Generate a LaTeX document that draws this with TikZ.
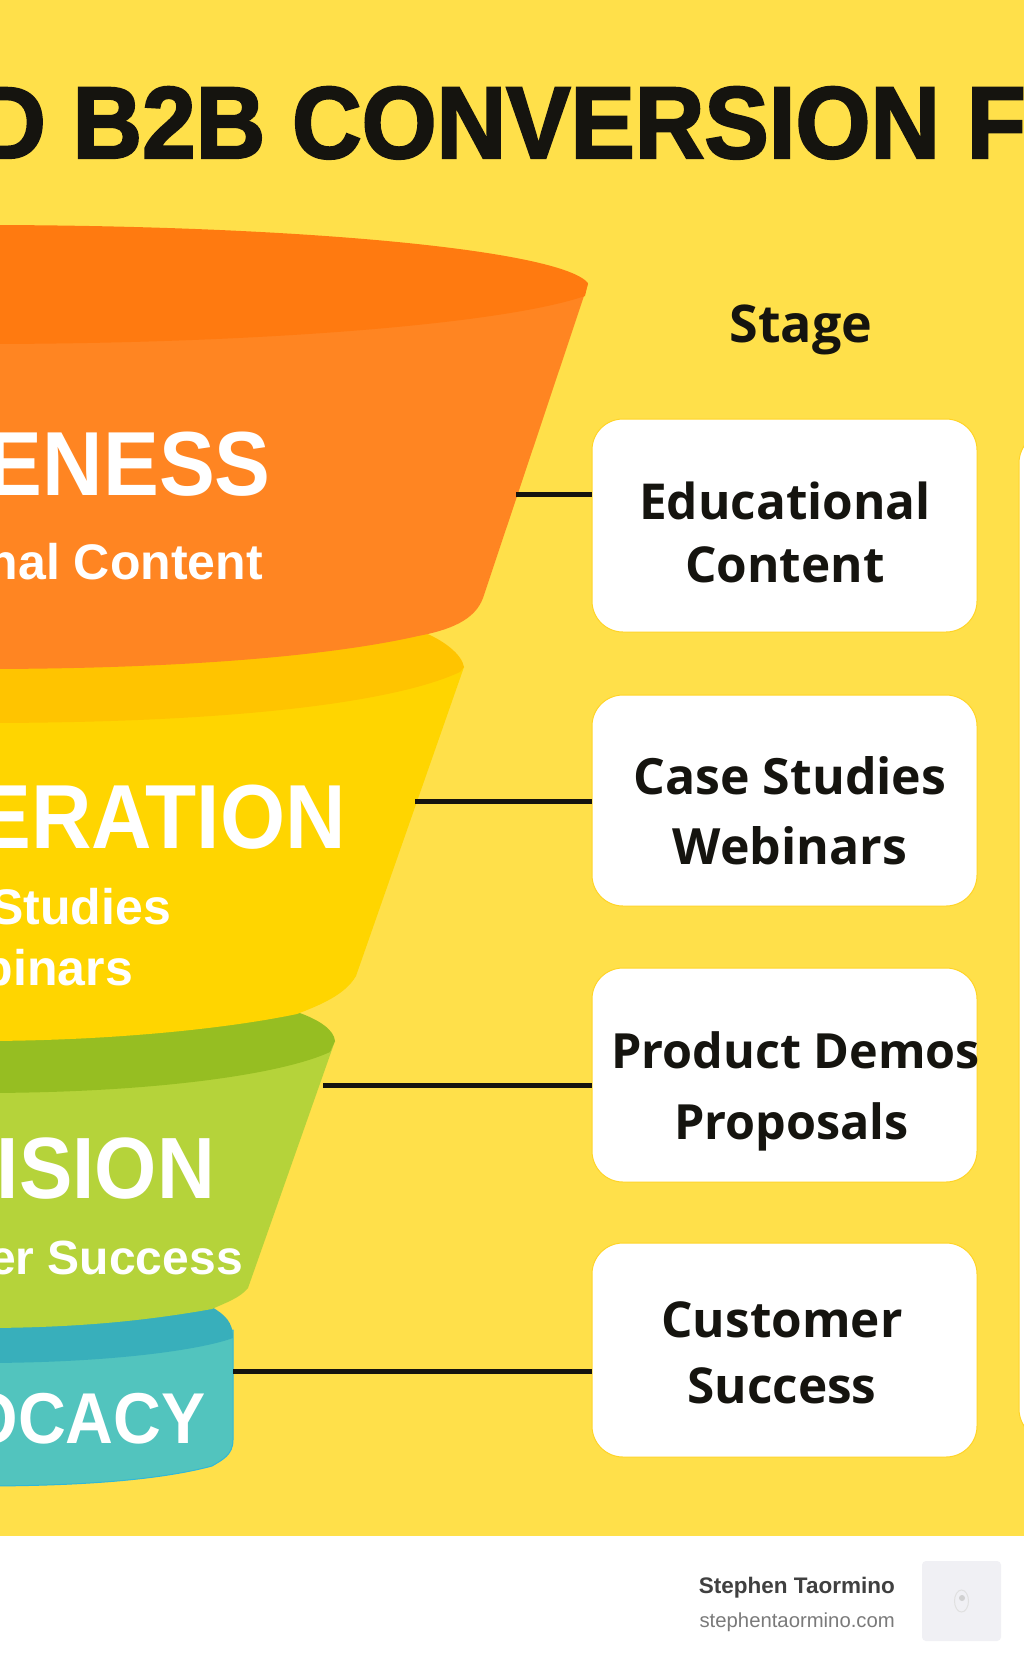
\documentclass[tikz,border=0pt]{standalone}
\usepackage{fontspec}
\setmainfont{Liberation Sans}
\newfontfamily\headfont[FakeStretch=0.945,FakeBold=2.2]{Liberation Sans}
\newfontfamily\layerfont[FakeStretch=0.92]{Liberation Sans}
\newfontfamily\stagefont{Open Sans}
\definecolor{bgyellow}{HTML}{FFE04A}
\definecolor{orangebody}{HTML}{FF8522}
\definecolor{orangetop}{HTML}{FF7A10}
\definecolor{yellowbody}{HTML}{FFD500}
\definecolor{yellowtop}{HTML}{FFC400}
\definecolor{greenbody}{HTML}{B5D33A}
\definecolor{greentop}{HTML}{96BE22}
\definecolor{tealbody}{HTML}{52C4BE}
\definecolor{tealtop}{HTML}{38AFBB}
\definecolor{tealedge}{HTML}{30B8D8}
\definecolor{boxedge}{HTML}{FFD426}
\definecolor{inkblack}{HTML}{15140F}
\definecolor{avatargrey}{HTML}{F0F0F4}
\tikzset{
  stagebox/.style={draw=boxedge,fill=white,rounded corners=31pt,line width=1pt,
    minimum width=385pt,inner sep=0pt},
  stagetext/.style={font=\stagefont\bfseries\fontsize{49.5}{66}\selectfont,text=inkblack,align=center,inner sep=0pt},
  layername/.style={font=\layerfont\bfseries\fontsize{91}{93}\selectfont,text=white,inner sep=0pt,anchor=base east},
  layersub/.style={font=\bfseries\fontsize{50}{52}\selectfont,text=white,inner sep=0pt,anchor=base east},
  linkline/.style={line width=5pt,color=inkblack},
}
\begin{document}
\begin{tikzpicture}[x=1pt,y=-1pt]
    \useasboundingbox (0,0) rectangle (1024,1666);
    \clip (0,0) rectangle (1024,1666);
    \fill[bgyellow] (0,0) rectangle (1024,1536);
    \fill[white] (0,1536) rectangle (1024,1666);
    \node[inner sep=0pt,anchor=base west,font=\headfont\bfseries\fontsize{102}{104}\selectfont,text=inkblack] (headline) at (-24,158) {D B2B CONVERSION F};
    \node[inner sep=0pt,anchor=base,font=\stagefont\bfseries\fontsize{52}{54}\selectfont,text=inkblack] (stagehead) at (801,342) {Stage};
    % funnel, lowest layer first
    \fill[tealbody,draw=tealedge,line width=1pt] (233,1330) -- (233,1440) .. controls (233,1455) and (222,1460) .. (212,1466) .. controls (160,1480) and (80,1486) .. (-20,1486) -- (-20,1330) -- cycle;
    \fill[tealtop] (212,1307) .. controls (225,1315) and (233,1322) .. (233,1338) .. controls (200,1350) and (110,1363) .. (-20,1363) -- (-20,1300) -- cycle;
    \fill[greenbody] (335,1041) -- (248,1288) .. controls (240,1298) and (225,1303) .. (212,1309) .. controls (150,1320) and (80,1328) .. (-20,1328) -- (-20,1041) -- cycle;
    \fill[greentop] (297,1012) .. controls (320,1020) and (334,1030) .. (335,1041) -- (330,1052) .. controls (280,1075) and (150,1093) .. (-20,1093) -- (-20,1000) -- cycle;
    \fill[yellowbody] (464,667) -- (356,976) .. controls (345,995) and (320,1005) .. (297,1014) .. controls (220,1030) and (100,1041) .. (-20,1041) -- (-20,667) -- cycle;
    \fill[yellowtop] (418,630) .. controls (445,640) and (462,655) .. (464,667) -- (460,672) .. controls (400,700) and (250,723) .. (-20,723) -- (-20,620) -- cycle;
    \fill[orangebody] (588,284) -- (483,598) .. controls (475,620) and (450,630) .. (418,636) .. controls (330,656) and (180,669) .. (-20,669) -- (-20,284) -- cycle;
    \fill[orangetop] (-20,225) .. controls (300,225) and (560,250) .. (588,283) -- (585,296) .. controls (500,325) and (250,344) .. (-20,344) -- cycle;
    % layer texts
    \node[layername] (awarename) at (271,495) {ENESS};
    \node[layersub] (awaresub) at (263,579) {nal Content};
    \node[layername] (genname) at (346,848) {ERATION};
    \node[layersub] (gensuba) at (171,924) {Studies};
    \node[layersub] (gensubb) at (133,985) {binars};
    \node[layername,font=\layerfont\bfseries\fontsize{87}{89}\selectfont] (convname) at (215,1198) {ISION};
    \node[layersub,font=\bfseries\fontsize{48}{50}\selectfont] (convsub) at (243,1274) {er Success};
    \node[layername,font=\layerfont\bfseries\fontsize{72}{74}\selectfont] (advname) at (206,1443) {OCACY};
    % stage boxes
    \node[stagebox,minimum width=120pt,minimum height=1008pt] (sidepanel) at (1079,936) {};
    \node[stagebox,minimum height=213pt] (edubox) at (784.5,525.5) {};
    \node[stagebox,minimum height=211pt] (casebox) at (784.5,800.5) {};
    \node[stagebox,minimum height=214pt] (demobox) at (784.5,1075) {};
    \node[stagebox,minimum height=214pt] (custbox) at (784.5,1350) {};
    \node[stagetext] (edutext) at (785,532) {Educational\\[-3pt]Content};
    \node[stagetext,font=\stagefont\bfseries\fontsize{50}{66}\selectfont] (casetext) at (790,810.5) {Case Studies\\[4pt]Webinars};
    \node[stagetext,font=\stagefont\bfseries\fontsize{48.5}{66}\selectfont] (demotext) at (795.5,1091) {Product Demos\\[5pt]Proposals\hspace*{8pt}};
    \node[stagetext] (custtext) at (782,1353) {Customer\\Success};
    % links
    \coordinate (awareedge) at (516,494);
    \coordinate (genedge) at (415,801);
    \coordinate (convedge) at (323,1085);
    \coordinate (advedge) at (233,1371);
    \draw[linkline] (awareedge) -- (awareedge -| edubox.west);
    \draw[linkline] (genedge) -- (genedge -| casebox.west);
    \draw[linkline] (convedge) -- (convedge -| demobox.west);
    \draw[linkline] (advedge) -- (advedge -| custbox.west);
    % footer
    \node[inner sep=0pt,anchor=base east,font=\bfseries\fontsize{22.5}{25}\selectfont,text=black!75] (authorname) at (895,1593) {Stephen Taormino};
    \node[inner sep=0pt,anchor=base east,font=\fontsize{20.3}{23}\selectfont,text=black!52] (authorsite) at (895,1627) {stephentaormino.com};
    \node[fill=avatargrey,rounded corners=4pt,minimum width=79pt,minimum height=80pt,inner sep=0pt] (avatar) at (961.5,1601) {};
    \draw[black!12,line width=1pt] (avatar.center) ellipse[x radius=7,y radius=11];
    \fill[black!18] (962,1598) circle (3);
  \end{tikzpicture}
\end{document}
